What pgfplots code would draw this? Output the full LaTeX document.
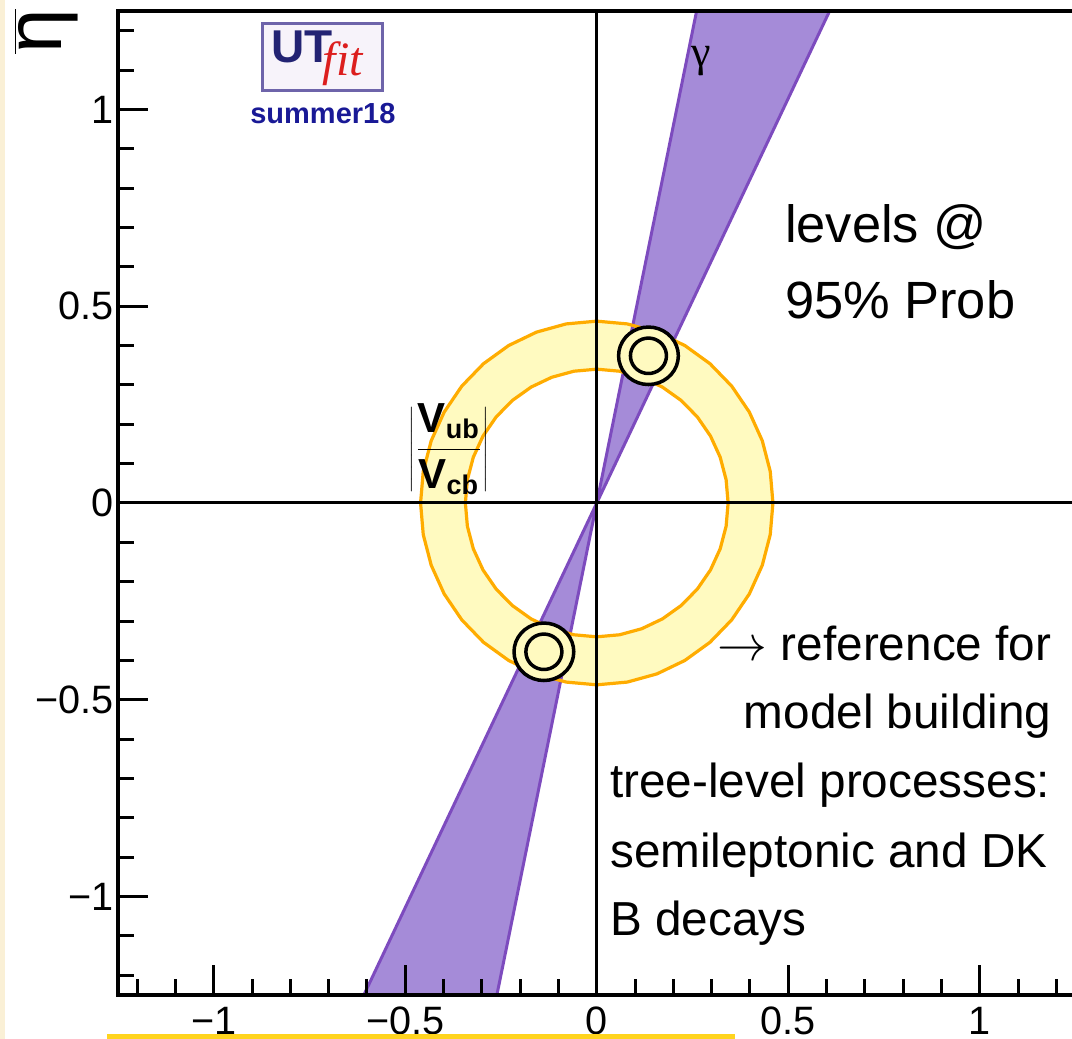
\documentclass[border=0pt]{standalone}
\usepackage{pgfplots}
\pgfplotsset{compat=1.18}
\usepackage{pgfplotstable}
\usepackage{fontspec}
\setmainfont{Liberation Sans}
\newfontfamily\serif{Liberation Serif}

\definecolor{ringfill}{RGB}{255,250,192}
\definecolor{ringline}{RGB}{255,172,0}
\definecolor{gfill}{RGB}{165,139,216}
\definecolor{gline}{RGB}{125,75,190}
\definecolor{cream}{RGB}{250,240,214}
\definecolor{hilite}{RGB}{255,212,30}
\definecolor{utblue}{RGB}{35,35,115}
\definecolor{sumblue}{RGB}{25,25,150}
\definecolor{utred}{RGB}{220,30,30}
\definecolor{logoframe}{RGB}{110,100,170}
\definecolor{logofill}{RGB}{247,243,250}

% unit circle, 10 degree steps
\pgfplotstableread{
c s
1.0000 0.0000
0.9848 0.1736
0.9397 0.3420
0.8660 0.5000
0.7660 0.6428
0.6428 0.7660
0.5000 0.8660
0.3420 0.9397
0.1736 0.9848
0.0000 1.0000
-0.1736 0.9848
-0.3420 0.9397
-0.5000 0.8660
-0.6428 0.7660
-0.7660 0.6428
-0.8660 0.5000
-0.9397 0.3420
-0.9848 0.1736
-1.0000 0.0000
-0.9848 -0.1736
-0.9397 -0.3420
-0.8660 -0.5000
-0.7660 -0.6428
-0.6428 -0.7660
-0.5000 -0.8660
-0.3420 -0.9397
-0.1736 -0.9848
0.0000 -1.0000
0.1736 -0.9848
0.3420 -0.9397
0.5000 -0.8660
0.6428 -0.7660
0.7660 -0.6428
0.8660 -0.5000
0.9397 -0.3420
0.9848 -0.1736
1.0000 0.0000
}\unitcircle

\begin{document}
\begin{tikzpicture}
\useasboundingbox (0,0) rectangle (536pt,519.5pt);
\fill[cream] (0,0) rectangle (2.5pt,519.5pt);
\begin{axis}[
  at={(59pt,22pt)}, anchor=south west,
  scale only axis, width=478.75pt, height=492pt,
  xmin=-1.25, xmax=1.25, ymin=-1.25, ymax=1.25,
  axis on top,
  axis line style={line width=1.9pt},
  xtick={-1,-0.5,0,0.5,1}, xticklabels={−1,−0.5,0,0.5,1},
  ytick={-1,-0.5,0,0.5,1}, yticklabels={−1,−0.5,0,0.5,1},
  minor xtick={-1.2,-1.1,-0.9,-0.8,-0.7,-0.6,-0.4,-0.3,-0.2,-0.1,0.1,0.2,0.3,0.4,0.6,0.7,0.8,0.9,1.1,1.2},
  minor ytick={-1.2,-1.1,-0.9,-0.8,-0.7,-0.6,-0.4,-0.3,-0.2,-0.1,0.1,0.2,0.3,0.4,0.6,0.7,0.8,0.9,1.1,1.2},
  tick align=inside, xtick pos=left, ytick pos=left,
  major tick length=15pt, minor tick length=8pt,
  every tick/.style={black, line width=1.5pt},
  tick label style={font=\fontsize{19.8}{22}\selectfont},
  xticklabel style={yshift=-2.5pt},
  yticklabel style={xshift=1.5pt},
  ylabel={$\overline{\mbox{η}}$},
  ylabel style={at={(axis description cs:-0.075,0.979)}, anchor=center, font=\fontsize{40}{42}\selectfont},
]
% |Vub/Vcb| ring
\addplot[draw=none, fill=ringfill] table[x expr=0.460*\thisrow{c}, y expr=0.462*\thisrow{s}] {\unitcircle};
\addplot[draw=none, fill=white] table[x expr=0.343*\thisrow{c}, y expr=0.340*\thisrow{s}] {\unitcircle};
% gamma wedge
\addplot[fill=gfill, draw=gline, line width=1.5pt, line join=round] coordinates {(0,0) (0.292,1.4) (0.681,1.4)} -- cycle;
\addplot[fill=gfill, draw=gline, line width=1.5pt, line join=round] coordinates {(0,0) (-0.292,-1.4) (-0.681,-1.4)} -- cycle;
% ring outlines
\addplot[ringline, line width=1.6pt, line join=round] table[x expr=0.460*\thisrow{c}, y expr=0.462*\thisrow{s}] {\unitcircle};
\addplot[ringline, line width=1.6pt, line join=round] table[x expr=0.343*\thisrow{c}, y expr=0.340*\thisrow{s}] {\unitcircle};
% fit contours
\addplot[black, line width=1.75pt, fill=ringfill, line join=round] table[x expr=0.135+0.078*\thisrow{c}, y expr=0.374+0.073*\thisrow{s}] {\unitcircle};
\addplot[black, line width=1.75pt, line join=round] table[x expr=0.135+0.047*\thisrow{c}, y expr=0.374+0.045*\thisrow{s}] {\unitcircle};
\addplot[black, line width=1.75pt, fill=ringfill, line join=round] table[x expr=-0.138+0.078*\thisrow{c}, y expr=-0.378+0.073*\thisrow{s}] {\unitcircle};
\addplot[black, line width=1.75pt, line join=round] table[x expr=-0.138+0.047*\thisrow{c}, y expr=-0.378+0.045*\thisrow{s}] {\unitcircle};
% zero lines
\addplot[black, line width=1.5pt] coordinates {(0,-1.25) (0,1.25)};
\addplot[black, line width=1.5pt] coordinates {(-1.25,0) (1.25,0)};

% labels
\node[inner sep=0, font=\serif\fontsize{22}{22}\selectfont] at (axis cs:0.272,1.123) {γ};
\node[inner sep=0, font=\fontsize{21}{22}\selectfont\bfseries] at (axis cs:-0.386,0.137)
  {$\displaystyle\left|\frac{\mbox{V}_{\mbox{\fontsize{13.5}{14}\selectfont\bfseries ub}}}{\mbox{V}_{\mbox{\fontsize{13.5}{14}\selectfont\bfseries cb}}}\right|$};

\node[anchor=base west, inner sep=0, font=\fontsize{26.2}{30}\selectfont] at (axis cs:0.491,0.663) {levels @};
\node[anchor=base west, inner sep=0, font=\fontsize{26.2}{30}\selectfont] at (axis cs:0.491,0.470) {95\% Prob};

\node[anchor=base east, inner sep=0, font=\fontsize{23.85}{28}\selectfont] at (axis cs:1.188,-0.399) {$\rightarrow$ reference for};
\node[anchor=base east, inner sep=0, font=\fontsize{23.85}{28}\selectfont] at (axis cs:1.188,-0.572) {model building};
\node[anchor=base west, inner sep=0, font=\fontsize{23.85}{28}\selectfont] at (axis cs:0.034,-0.747) {tree-level processes:};
\node[anchor=base west, inner sep=0, font=\fontsize{23.85}{28}\selectfont] at (axis cs:0.034,-0.925) {semileptonic and DK};
\node[anchor=base west, inner sep=0, font=\fontsize{23.85}{28}\selectfont] at (axis cs:0.034,-1.098) {B decays};

% UTfit logo
\node[draw=logoframe, line width=1.5pt, fill=logofill, minimum width=60pt, minimum height=33.5pt, inner sep=0] at (axis cs:-0.715,1.134) {};
\node[anchor=base west, inner sep=0, font=\fontsize{23}{23}\selectfont\bfseries, text=utblue] at (axis cs:-0.851,1.118) {UT};
\node[anchor=base west, inner sep=0, font=\serif\itshape\fontsize{24}{24}\selectfont, text=utred] at (axis cs:-0.716,1.085) {fit};
\node[anchor=base, inner sep=0, font=\fontsize{14.5}{14}\selectfont\bfseries, text=sumblue] at (axis cs:-0.715,0.965) {summer18};
\end{axis}
\fill[hilite] (53.5pt,0) rectangle (367.5pt,2.5pt);
\end{tikzpicture}
\end{document}
